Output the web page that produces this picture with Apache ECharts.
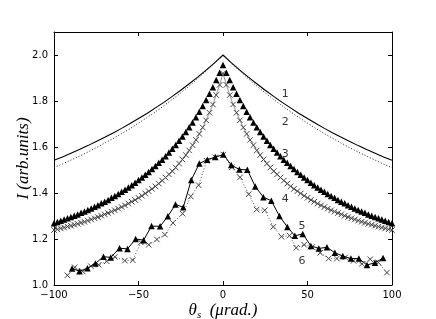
<!DOCTYPE html>
<html><head><meta charset="utf-8">
<script src="https://cdn.jsdelivr.net/npm/echarts@6/dist/echarts.min.js"></script>
<style>html,body{margin:0;padding:0;background:#fff}#c{width:436px;height:319px}</style>
</head><body><div id="c"></div>
<script>
// ---- data ----
const xLine = [-100,-95,-90,-85,-80,-75,-70,-65,-60,-55,-50,-45,-40,-35,-30,-25,-20,-15,-10,-5,0,5,10,15,20,25,30,35,40,45,50,55,60,65,70,75,80,85,90,95,100];
const curve1 = [1.542,1.557,1.573,1.589,1.606,1.624,1.642,1.661,1.681,1.702,1.724,1.746,1.770,1.794,1.820,1.847,1.875,1.904,1.934,1.966,2.000,1.966,1.934,1.904,1.875,1.847,1.820,1.794,1.770,1.746,1.724,1.702,1.681,1.661,1.642,1.624,1.606,1.589,1.573,1.557,1.542];
const curve2 = [1.510,1.526,1.543,1.560,1.578,1.597,1.617,1.637,1.658,1.680,1.704,1.728,1.753,1.779,1.807,1.835,1.865,1.897,1.930,1.964,1.998,1.964,1.930,1.897,1.865,1.835,1.807,1.779,1.753,1.728,1.704,1.680,1.658,1.637,1.617,1.597,1.578,1.560,1.543,1.526,1.510];

const xDense = [-100,-98,-96,-94,-92,-90,-88,-86,-84,-82,-80,-78,-76,-74,-72,-70,-68,-66,-64,-62,-60,-58,-56,-54,-52,-50,-48,-46,-44,-42,-40,-38,-36,-34,-32,-30,-28,-26,-24,-22,-20,-18,-16,-14,-12,-10,-8,-6,-4,-2,0,2,4,6,8,10,12,14,16,18,20,22,24,26,28,30,32,34,36,38,40,42,44,46,48,50,52,54,56,58,60,62,64,66,68,70,72,74,76,78,80,82,84,86,88,90,92,94,96,98,100];
const curve3 = [1.269,1.274,1.279,1.285,1.290,1.296,1.301,1.307,1.314,1.320,1.326,1.333,1.340,1.347,1.355,1.362,1.370,1.379,1.387,1.396,1.405,1.414,1.424,1.434,1.445,1.456,1.467,1.479,1.491,1.504,1.517,1.531,1.545,1.560,1.576,1.592,1.609,1.627,1.646,1.665,1.686,1.707,1.729,1.753,1.778,1.804,1.831,1.860,1.891,1.923,
1.957,
1.923,1.891,1.860,1.831,1.804,1.778,1.753,1.729,1.707,1.686,1.665,1.646,1.627,1.609,1.592,1.576,1.560,1.545,1.531,1.517,1.504,1.491,1.479,1.467,1.456,1.445,1.434,1.424,1.414,1.405,1.396,1.387,1.379,1.370,1.362,1.355,1.347,1.340,1.333,1.326,1.320,1.314,1.307,1.301,1.296,1.290,1.285,1.279,1.274,1.269];
const curve4 = [1.239,1.242,1.246,1.250,1.254,1.258,1.262,1.266,1.271,1.275,1.280,1.285,1.290,1.295,1.301,1.307,1.313,1.319,1.325,1.332,1.339,1.346,1.354,1.362,1.370,1.379,1.388,1.398,1.408,1.418,1.429,1.441,1.454,1.467,1.481,1.495,1.511,1.528,1.546,1.565,1.585,1.608,1.631,1.657,1.685,1.716,1.749,1.785,1.826,1.870,
1.920,
1.870,1.826,1.785,1.749,1.716,1.685,1.657,1.631,1.608,1.585,1.565,1.546,1.528,1.511,1.495,1.481,1.467,1.454,1.441,1.429,1.418,1.408,1.398,1.388,1.379,1.370,1.362,1.354,1.346,1.339,1.332,1.325,1.319,1.313,1.307,1.301,1.295,1.290,1.285,1.280,1.275,1.271,1.266,1.262,1.258,1.254,1.250,1.246,1.242,1.239];

const x5 = [-89.3,-84.9,-80.2,-75.5,-70.7,-66.4,-61.2,-56.5,-51.7,-47.0,-42.3,-37.2,-32.6,-28.1,-23.5,-18.8,-14.0,-9.3,-4.6,0.2,4.9,9.7,14.4,19.1,23.9,28.6,33.4,38.1,42.5,47.2,52.0,56.7,61.5,66.2,70.9,75.7,80.4,85.2,89.9,94.7];
const curve5 = [1.072,1.060,1.073,1.094,1.123,1.120,1.160,1.157,1.200,1.195,1.256,1.255,1.299,1.350,1.338,1.456,1.528,1.545,1.556,1.567,1.522,1.502,1.501,1.428,1.382,1.366,1.300,1.252,1.214,1.222,1.170,1.159,1.164,1.140,1.126,1.115,1.115,1.087,1.097,1.117];
const x6 = [-92.1,-87.7,-83.0,-78.2,-73.5,-68.8,-64.0,-58.1,-53.4,-48.6,-43.9,-39.1,-34.4,-29.6,-23.9,-19.1,-14.4,-9.7,-4.6,0.2,5.3,10.1,15.2,19.9,24.7,29.8,34.6,39.4,43.3,48.0,52.8,57.5,62.5,67.4,72.3,77.2,82.2,87.1,91.9,97.0];
const curve6 = [1.042,1.077,1.059,1.082,1.088,1.103,1.122,1.106,1.108,1.185,1.175,1.198,1.219,1.270,1.310,1.385,1.434,1.540,1.555,1.567,1.512,1.468,1.395,1.328,1.325,1.253,1.210,1.215,1.162,1.175,1.165,1.140,1.115,1.115,1.120,1.105,1.092,1.112,1.098,1.054];

const curveNames = ['1','2','3','4','5','6'];
const nameX = [36.8,36.8,36.8,36.8,46.8,46.8];
const nameY = [1.831,1.710,1.567,1.372,1.255,1.104];

// ---- chart ----
const pairs = (xs, ys) => xs.map((x, i) => [x, ys[i]]);
const XMARK = 'path://M0,0L10,10M10,0L0,10';
const chart = echarts.init(document.getElementById('c'), null, {renderer: 'canvas'});
const axisCommon = {
  type: 'value', min: -100, max: 100, interval: 50,
  axisLine: {show: true, onZero: false, lineStyle: {color: '#000', width: 1}},
  axisTick: {show: true, inside: true, length: 4, lineStyle: {color: '#000'}},
  splitLine: {show: false}
};
chart.setOption({
  animation: false,
  backgroundColor: '#fff',
  grid: {left: 54, right: 44, top: 32, bottom: 34, containLabel: false, outerBoundsMode: 'none'},
  xAxis: [
    Object.assign({}, axisCommon, {
      position: 'bottom',
      axisLabel: {show: true, fontFamily: 'DejaVu Sans', fontSize: 10, color: '#000', margin: 5,
        formatter: v => (v < 0 ? '\u2212' + Math.abs(v) : String(v))},
      name: '{t|θ}{s|s}{t|  (μrad.)}', nameLocation: 'middle', nameGap: 15, nameMoveOverlap: false,
      nameTextStyle: {verticalAlign: 'top', rich: {
        t: {fontFamily: 'Liberation Serif', fontStyle: 'italic', fontSize: 17, color: '#000'},
        s: {fontFamily: 'Liberation Serif', fontStyle: 'italic', fontSize: 11, color: '#000', verticalAlign: 'bottom', padding: [10, 0, 0, 0]}
      }}
    }),
    Object.assign({}, axisCommon, {position: 'top', axisLabel: {show: false}})
  ],
  yAxis: [
    Object.assign({}, axisCommon, {
      min: 1.0, max: 2.1, interval: 0.2, position: 'left',
      axisLabel: {show: true, fontFamily: 'DejaVu Sans', fontSize: 10, color: '#000', margin: 6,
        showMaxLabel: false, formatter: v => v.toFixed(1)},
      name: 'I (arb.units)', nameLocation: 'middle', nameGap: 22, nameRotate: 90, nameMoveOverlap: false,
      nameTextStyle: {fontFamily: 'Liberation Serif', fontStyle: 'italic', fontSize: 17, color: '#000'}
    }),
    Object.assign({}, axisCommon, {min: 1.0, max: 2.1, interval: 0.2, position: 'right', axisLabel: {show: false}})
  ],
  series: [
    {type: 'line', data: pairs(xLine, curve1), showSymbol: false, symbol: 'none',
     lineStyle: {color: '#000', width: 1.1}, z: 3},
    {type: 'line', data: pairs(xLine, curve2), showSymbol: false, symbol: 'none',
     lineStyle: {color: '#222', width: 1, type: [1, 2]}, z: 3},
    {type: 'line', data: pairs(xDense, curve4), symbol: XMARK, symbolSize: 5.5,
     itemStyle: {color: 'rgba(0,0,0,0)', borderColor: '#444', borderWidth: 1},
     lineStyle: {color: '#666', width: 0.7}, z: 2},
    {type: 'line', data: pairs(xDense, curve3), symbol: 'triangle', symbolSize: 6.5,
     itemStyle: {color: '#000'}, lineStyle: {width: 0}, z: 3},
    {type: 'line', data: pairs(x6, curve6), symbol: XMARK, symbolSize: 5.5,
     itemStyle: {color: 'rgba(0,0,0,0)', borderColor: '#444', borderWidth: 1},
     lineStyle: {color: '#555', width: 1, type: [1, 2]}, z: 2},
    {type: 'line', data: pairs(x5, curve5), symbol: 'triangle', symbolSize: 6.5,
     itemStyle: {color: '#000'}, lineStyle: {color: '#000', width: 1}, z: 3},
    {type: 'scatter', silent: true, symbolSize: 0, z: 5,
     data: curveNames.map((n, i) => ({name: n, value: [nameX[i], nameY[i]]})),
     label: {show: true, position: 'inside', formatter: p => p.name,
       fontFamily: 'DejaVu Sans', fontSize: 11, color: '#000'}}
  ]
});
</script>
</body></html>
